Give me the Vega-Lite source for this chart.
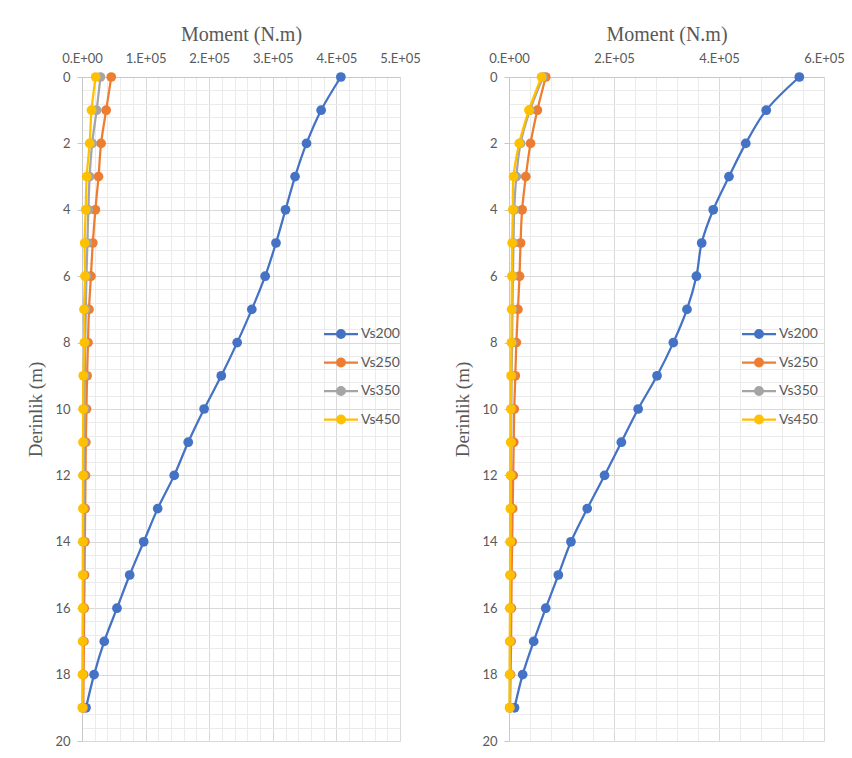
{
  "$schema": "https://vega.github.io/schema/vega-lite/v6.json",
  "background": "white",
  "padding": {"left": 26, "top": 24, "right": 5, "bottom": 5},
  "spacing": 32,
  "config": {"view": {"stroke": null}},
  "datasets": {
    "left": [
      {"series":"Vs200","depth":0,"moment":407000},{"series":"Vs200","depth":1,"moment":376000},{"series":"Vs200","depth":2,"moment":353000},{"series":"Vs200","depth":3,"moment":335000},{"series":"Vs200","depth":4,"moment":320000},{"series":"Vs200","depth":5,"moment":305000},{"series":"Vs200","depth":6,"moment":288000},{"series":"Vs200","depth":7,"moment":267000},{"series":"Vs200","depth":8,"moment":244000},{"series":"Vs200","depth":9,"moment":219000},{"series":"Vs200","depth":10,"moment":192000},{"series":"Vs200","depth":11,"moment":167000},{"series":"Vs200","depth":12,"moment":145000},{"series":"Vs200","depth":13,"moment":119000},{"series":"Vs200","depth":14,"moment":97000},{"series":"Vs200","depth":15,"moment":75000},{"series":"Vs200","depth":16,"moment":55000},{"series":"Vs200","depth":17,"moment":35000},{"series":"Vs200","depth":18,"moment":19000},{"series":"Vs200","depth":19,"moment":6300},
      {"series":"Vs250","depth":0,"moment":46000},{"series":"Vs250","depth":1,"moment":38000},{"series":"Vs250","depth":2,"moment":30000},{"series":"Vs250","depth":3,"moment":26000},{"series":"Vs250","depth":4,"moment":21000},{"series":"Vs250","depth":5,"moment":17000},{"series":"Vs250","depth":6,"moment":14000},{"series":"Vs250","depth":7,"moment":11000},{"series":"Vs250","depth":8,"moment":9400},{"series":"Vs250","depth":9,"moment":8000},{"series":"Vs250","depth":10,"moment":7000},{"series":"Vs250","depth":11,"moment":6000},{"series":"Vs250","depth":12,"moment":5500},{"series":"Vs250","depth":13,"moment":5000},{"series":"Vs250","depth":14,"moment":4500},{"series":"Vs250","depth":15,"moment":4000},{"series":"Vs250","depth":16,"moment":3500},{"series":"Vs250","depth":17,"moment":3000},{"series":"Vs250","depth":18,"moment":2500},{"series":"Vs250","depth":19,"moment":2000},
      {"series":"Vs350","depth":0,"moment":29000},{"series":"Vs350","depth":1,"moment":23000},{"series":"Vs350","depth":2,"moment":16000},{"series":"Vs350","depth":3,"moment":12000},{"series":"Vs350","depth":4,"moment":10000},{"series":"Vs350","depth":5,"moment":8500},{"series":"Vs350","depth":6,"moment":7000},{"series":"Vs350","depth":7,"moment":6000},{"series":"Vs350","depth":8,"moment":5000},{"series":"Vs350","depth":9,"moment":4500},{"series":"Vs350","depth":10,"moment":4000},{"series":"Vs350","depth":11,"moment":3500},{"series":"Vs350","depth":12,"moment":3000},{"series":"Vs350","depth":13,"moment":2700},{"series":"Vs350","depth":14,"moment":2400},{"series":"Vs350","depth":15,"moment":2100},{"series":"Vs350","depth":16,"moment":1800},{"series":"Vs350","depth":17,"moment":1500},{"series":"Vs350","depth":18,"moment":1200},{"series":"Vs350","depth":19,"moment":1000},
      {"series":"Vs450","depth":0,"moment":21500},{"series":"Vs450","depth":1,"moment":15000},{"series":"Vs450","depth":2,"moment":12000},{"series":"Vs450","depth":3,"moment":7400},{"series":"Vs450","depth":4,"moment":5800},{"series":"Vs450","depth":5,"moment":4200},{"series":"Vs450","depth":6,"moment":4700},{"series":"Vs450","depth":7,"moment":3100},{"series":"Vs450","depth":8,"moment":3600},{"series":"Vs450","depth":9,"moment":2000},{"series":"Vs450","depth":10,"moment":1800},{"series":"Vs450","depth":11,"moment":1600},{"series":"Vs450","depth":12,"moment":1500},{"series":"Vs450","depth":13,"moment":1400},{"series":"Vs450","depth":14,"moment":1300},{"series":"Vs450","depth":15,"moment":1200},{"series":"Vs450","depth":16,"moment":1100},{"series":"Vs450","depth":17,"moment":1000},{"series":"Vs450","depth":18,"moment":800},{"series":"Vs450","depth":19,"moment":500}
    ],
    "right": [
      {"series":"Vs200","depth":0,"moment":553000},{"series":"Vs200","depth":1,"moment":490000},{"series":"Vs200","depth":2,"moment":451000},{"series":"Vs200","depth":3,"moment":419000},{"series":"Vs200","depth":4,"moment":389000},{"series":"Vs200","depth":5,"moment":367000},{"series":"Vs200","depth":6,"moment":357000},{"series":"Vs200","depth":7,"moment":339000},{"series":"Vs200","depth":8,"moment":313000},{"series":"Vs200","depth":9,"moment":282000},{"series":"Vs200","depth":10,"moment":246000},{"series":"Vs200","depth":11,"moment":214000},{"series":"Vs200","depth":12,"moment":182000},{"series":"Vs200","depth":13,"moment":149000},{"series":"Vs200","depth":14,"moment":118000},{"series":"Vs200","depth":15,"moment":94000},{"series":"Vs200","depth":16,"moment":70000},{"series":"Vs200","depth":17,"moment":47000},{"series":"Vs200","depth":18,"moment":26000},{"series":"Vs200","depth":19,"moment":10500},
      {"series":"Vs250","depth":0,"moment":70000},{"series":"Vs250","depth":1,"moment":54000},{"series":"Vs250","depth":2,"moment":41000},{"series":"Vs250","depth":3,"moment":32000},{"series":"Vs250","depth":4,"moment":25000},{"series":"Vs250","depth":5,"moment":22000},{"series":"Vs250","depth":6,"moment":20000},{"series":"Vs250","depth":7,"moment":17000},{"series":"Vs250","depth":8,"moment":14000},{"series":"Vs250","depth":9,"moment":12000},{"series":"Vs250","depth":10,"moment":10000},{"series":"Vs250","depth":11,"moment":9000},{"series":"Vs250","depth":12,"moment":8000},{"series":"Vs250","depth":13,"moment":7000},{"series":"Vs250","depth":14,"moment":6000},{"series":"Vs250","depth":15,"moment":5000},{"series":"Vs250","depth":16,"moment":4500},{"series":"Vs250","depth":17,"moment":4000},{"series":"Vs250","depth":18,"moment":3000},{"series":"Vs250","depth":19,"moment":2000},
      {"series":"Vs350","depth":0,"moment":65000},{"series":"Vs350","depth":1,"moment":40000},{"series":"Vs350","depth":2,"moment":22000},{"series":"Vs350","depth":3,"moment":14000},{"series":"Vs350","depth":4,"moment":10000},{"series":"Vs350","depth":5,"moment":8500},{"series":"Vs350","depth":6,"moment":7500},{"series":"Vs350","depth":7,"moment":6500},{"series":"Vs350","depth":8,"moment":6000},{"series":"Vs350","depth":9,"moment":5000},{"series":"Vs350","depth":10,"moment":4500},{"series":"Vs350","depth":11,"moment":4000},{"series":"Vs350","depth":12,"moment":3500},{"series":"Vs350","depth":13,"moment":3000},{"series":"Vs350","depth":14,"moment":2700},{"series":"Vs350","depth":15,"moment":2400},{"series":"Vs350","depth":16,"moment":2100},{"series":"Vs350","depth":17,"moment":1900},{"series":"Vs350","depth":18,"moment":1700},{"series":"Vs350","depth":19,"moment":1500},
      {"series":"Vs450","depth":0,"moment":62000},{"series":"Vs450","depth":1,"moment":38000},{"series":"Vs450","depth":2,"moment":19500},{"series":"Vs450","depth":3,"moment":8600},{"series":"Vs450","depth":4,"moment":7300},{"series":"Vs450","depth":5,"moment":6000},{"series":"Vs450","depth":6,"moment":5500},{"series":"Vs450","depth":7,"moment":5000},{"series":"Vs450","depth":8,"moment":4500},{"series":"Vs450","depth":9,"moment":4000},{"series":"Vs450","depth":10,"moment":3700},{"series":"Vs450","depth":11,"moment":3400},{"series":"Vs450","depth":12,"moment":3100},{"series":"Vs450","depth":13,"moment":2800},{"series":"Vs450","depth":14,"moment":2500},{"series":"Vs450","depth":15,"moment":2200},{"series":"Vs450","depth":16,"moment":1900},{"series":"Vs450","depth":17,"moment":1600},{"series":"Vs450","depth":18,"moment":1300},{"series":"Vs450","depth":19,"moment":1000}
    ]
  },
  "resolve": {"scale": {"x": "independent", "y": "independent", "color": "independent"}, "legend": {"color": "independent"}},
  "hconcat": [
    {
      "data": {"name": "left"},
      "width": 318,
      "height": 664,
      "mark": {"type": "line", "interpolate": "catmull-rom", "strokeWidth": 2.25, "point": {"filled": true, "size": 95}},
      "encoding": {
        "x": {"field": "moment", "type": "quantitative",
          "scale": {"domain": [0, 500000], "nice": false, "zero": false},
          "axis": {"orient": "top", "title": "Moment (N.m)",
            "values": [0,20000,40000,60000,80000,100000,120000,140000,160000,180000,200000,220000,240000,260000,280000,300000,320000,340000,360000,380000,400000,420000,440000,460000,480000,500000],
            "labelExpr": "datum.value % 100000 === 0 ? (datum.value === 0 ? '0.E+00' : format(datum.value / 100000, 'd') + '.E+05') : ''",
            "labelFont": "Lato", "labelFontSize": 13, "labelColor": "#595959", "labelFlush": false, "labelOverlap": false, "labelPadding": 12,
            "ticks": false, "domainColor": "#c8c8c8",
            "gridColor": {"condition": {"test": "datum.value % 100000 === 0", "value": "#d9d9d9"}, "value": "#ebebeb"},
            "titleFont": "Liberation Serif", "titleFontSize": 20, "titleFontWeight": "normal", "titleColor": "#595959", "titlePadding": 8}
        },
        "y": {"field": "depth", "type": "quantitative",
          "scale": {"domain": [0, 20], "reverse": true, "nice": false},
          "axis": {"title": "Derinlik (m)",
            "values": [0,0.4,0.8,1.2,1.6,2,2.4,2.8,3.2,3.6,4,4.4,4.8,5.2,5.6,6,6.4,6.8,7.2,7.6,8,8.4,8.8,9.2,9.6,10,10.4,10.8,11.2,11.6,12,12.4,12.8,13.2,13.6,14,14.4,14.8,15.2,15.6,16,16.4,16.8,17.2,17.6,18,18.4,18.8,19.2,19.6,20],
            "labelExpr": "datum.value % 2 === 0 ? format(datum.value, 'd') : ''",
            "labelFont": "Lato", "labelFontSize": 13, "labelColor": "#595959", "labelPadding": 7, "labelOverlap": false, "labelFlush": false,
            "tickSize": 5, "tickColor": "#c8c8c8", "tickOpacity": {"condition": {"test": "datum.value % 2 === 0", "value": 1}, "value": 0},
            "domainColor": "#c8c8c8",
            "gridColor": {"condition": {"test": "datum.value % 2 === 0", "value": "#d9d9d9"}, "value": "#ebebeb"},
            "titleFont": "Liberation Serif", "titleFontSize": 19, "titleFontWeight": "normal", "titleColor": "#595959", "titlePadding": 9}
        },
        "color": {"field": "series", "type": "nominal",
          "scale": {"domain": ["Vs200", "Vs250", "Vs350", "Vs450"], "range": ["#4472C4", "#ED7D31", "#A5A5A5", "#FFC000"]},
          "legend": {"orient": "none", "legendX": 249, "legendY": 247, "title": null,
            "symbolType": "M-2,0H2M-0.45,0A0.45,0.45,0,1,0,0.45,0A0.45,0.45,0,1,0,-0.45,0Z",
            "symbolSize": 289, "symbolStrokeWidth": 2.25, "rowPadding": 9.5,
            "labelFont": "Lato", "labelFontSize": 14, "labelColor": "#595959", "labelOffset": 10}
        },
        "order": {"field": "depth", "type": "quantitative"}
      }
    },
    {
      "data": {"name": "right"},
      "width": 315,
      "height": 664,
      "mark": {"type": "line", "interpolate": "catmull-rom", "strokeWidth": 2.25, "point": {"filled": true, "size": 95}},
      "encoding": {
        "x": {"field": "moment", "type": "quantitative",
          "scale": {"domain": [0, 600000], "nice": false, "zero": false},
          "axis": {"orient": "top", "title": "Moment (N.m)",
            "values": [0,40000,80000,120000,160000,200000,240000,280000,320000,360000,400000,440000,480000,520000,560000,600000],
            "labelExpr": "datum.value % 200000 === 0 ? (datum.value === 0 ? '0.E+00' : format(datum.value / 100000, 'd') + '.E+05') : ''",
            "labelFont": "Lato", "labelFontSize": 13, "labelColor": "#595959", "labelFlush": false, "labelOverlap": false, "labelPadding": 12,
            "ticks": false, "domainColor": "#c8c8c8",
            "gridColor": {"condition": {"test": "datum.value % 200000 === 0", "value": "#d9d9d9"}, "value": "#ebebeb"},
            "titleFont": "Liberation Serif", "titleFontSize": 20, "titleFontWeight": "normal", "titleColor": "#595959", "titlePadding": 8}
        },
        "y": {"field": "depth", "type": "quantitative",
          "scale": {"domain": [0, 20], "reverse": true, "nice": false},
          "axis": {"title": "Derinlik (m)",
            "values": [0,0.4,0.8,1.2,1.6,2,2.4,2.8,3.2,3.6,4,4.4,4.8,5.2,5.6,6,6.4,6.8,7.2,7.6,8,8.4,8.8,9.2,9.6,10,10.4,10.8,11.2,11.6,12,12.4,12.8,13.2,13.6,14,14.4,14.8,15.2,15.6,16,16.4,16.8,17.2,17.6,18,18.4,18.8,19.2,19.6,20],
            "labelExpr": "datum.value % 2 === 0 ? format(datum.value, 'd') : ''",
            "labelFont": "Lato", "labelFontSize": 13, "labelColor": "#595959", "labelPadding": 7, "labelOverlap": false, "labelFlush": false,
            "tickSize": 5, "tickColor": "#c8c8c8", "tickOpacity": {"condition": {"test": "datum.value % 2 === 0", "value": 1}, "value": 0},
            "domainColor": "#c8c8c8",
            "gridColor": {"condition": {"test": "datum.value % 2 === 0", "value": "#d9d9d9"}, "value": "#ebebeb"},
            "titleFont": "Liberation Serif", "titleFontSize": 19, "titleFontWeight": "normal", "titleColor": "#595959", "titlePadding": 9}
        },
        "color": {"field": "series", "type": "nominal",
          "scale": {"domain": ["Vs200", "Vs250", "Vs350", "Vs450"], "range": ["#4472C4", "#ED7D31", "#A5A5A5", "#FFC000"]},
          "legend": {"orient": "none", "legendX": 240, "legendY": 247, "title": null,
            "symbolType": "M-2,0H2M-0.45,0A0.45,0.45,0,1,0,0.45,0A0.45,0.45,0,1,0,-0.45,0Z",
            "symbolSize": 289, "symbolStrokeWidth": 2.25, "rowPadding": 9.5,
            "labelFont": "Lato", "labelFontSize": 14, "labelColor": "#595959", "labelOffset": 10}
        },
        "order": {"field": "depth", "type": "quantitative"}
      }
    }
  ]
}
